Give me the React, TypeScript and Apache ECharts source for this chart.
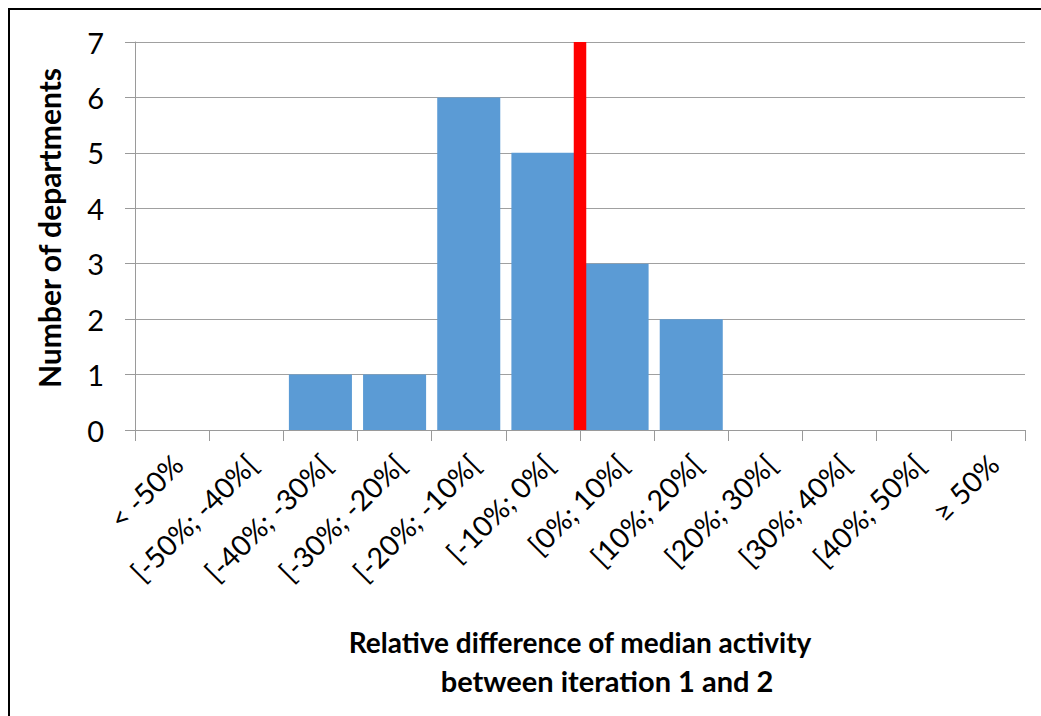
import React, { useEffect, useRef } from "react";
import * as echarts from "echarts";

const categories = [
  "< -50%",
  "[-50%; -40%[",
  "[-40%; -30%[",
  "[-30%; -20%[",
  "[-20%; -10%[",
  "[-10%; 0%[",
  "[0%; 10%[",
  "[10%; 20%[",
  "[20%; 30%[",
  "[30%; 40%[",
  "[40%; 50%[",
  "≥ 50%",
];
const counts = [0, 0, 1, 1, 6, 5, 3, 2, 0, 0, 0, 0];
const markerPosition = 6; // boundary between [-10%; 0%[ and [0%; 10%[
const yTicks = [0, 1, 2, 3, 4, 5, 6, 7];
const yTitle = "Number of departments";
const xTitleLine1 = "Relative difference of median activity";
const xTitleLine2 = "between iteration 1 and 2";

const FONT = "Lato, 'Open Sans', sans-serif";

export default function App() {
  const ref = useRef<HTMLDivElement>(null);
  useEffect(() => {
    if (!ref.current) return;
    const chart = echarts.init(ref.current, null, { renderer: "svg" });
    chart.setOption({
      animation: false,
      backgroundColor: "#ffffff",
      grid: { left: 135, right: 16, top: 42, bottom: 286, containLabel: false },
      xAxis: [
        {
          type: "category",
          data: categories,
          boundaryGap: true,
          axisLine: { show: true, lineStyle: { color: "#9a9a9a", width: 1 } },
          axisTick: { show: true, length: 11, alignWithLabel: false, lineStyle: { color: "#9a9a9a" } },
          axisLabel: {
            rotate: 45,
            interval: 0,
            margin: 35,
            padding: [0, -8, 0, 0],
            fontFamily: FONT,
            fontSize: 28.5,
            color: "#000",
          },
        },
        {
          type: "value",
          min: 0,
          max: 12,
          show: false,
        },
      ],
      yAxis: {
        type: "value",
        min: yTicks[0],
        max: yTicks[yTicks.length - 1],
        interval: 1,
        axisLine: { show: true, lineStyle: { color: "#9a9a9a" } },
        axisTick: { show: true, length: 10, lineStyle: { color: "#9a9a9a" } },
        axisLabel: { margin: 31, fontFamily: FONT, fontSize: 29, color: "#000" },
        splitLine: { show: true, lineStyle: { color: "#a0a0a0", width: 1 } },
      },
      series: [
        {
          type: "bar",
          data: counts,
          xAxisIndex: 0,
          barCategoryGap: "15%",
          itemStyle: { color: "#5b9bd5" },
          z: 2,
        },
        {
          type: "line",
          xAxisIndex: 1,
          data: [
            [markerPosition, yTicks[0]],
            [markerPosition, yTicks[yTicks.length - 1]],
          ],
          symbol: "none",
          lineStyle: { color: "#ff0000", width: 12.5, cap: "butt" },
          z: 3,
        },
      ],
      graphic: [
        {
          type: "rect",
          shape: { x: 9, y: 9, width: 1100, height: 800 },
          style: { fill: "none", stroke: "#000", lineWidth: 2 },
          silent: true,
        },
        {
          type: "text",
          x: 49,
          y: 228,
          rotation: Math.PI / 2,
          style: {
            text: yTitle,
            fontFamily: FONT,
            fontSize: 30,
            fontWeight: "bold",
            fill: "#000",
            align: "center",
            verticalAlign: "middle",
          },
        },
        {
          type: "text",
          x: 580,
          y: 642,
          style: {
            text: xTitleLine1,
            fontFamily: FONT,
            fontSize: 28,
            fontWeight: "bold",
            fill: "#000",
            align: "center",
            verticalAlign: "middle",
          },
        },
        {
          type: "text",
          x: 607,
          y: 680,
          style: {
            text: xTitleLine2,
            fontFamily: FONT,
            fontSize: 29,
            fontWeight: "bold",
            fill: "#000",
            align: "center",
            verticalAlign: "middle",
          },
        },
      ],
    });
    return () => chart.dispose();
  }, []);
  return (
    <div
      ref={ref}
      style={{ position: "fixed", left: 0, top: 0, width: 1041, height: 716, background: "#fff" }}
    />
  );
}
